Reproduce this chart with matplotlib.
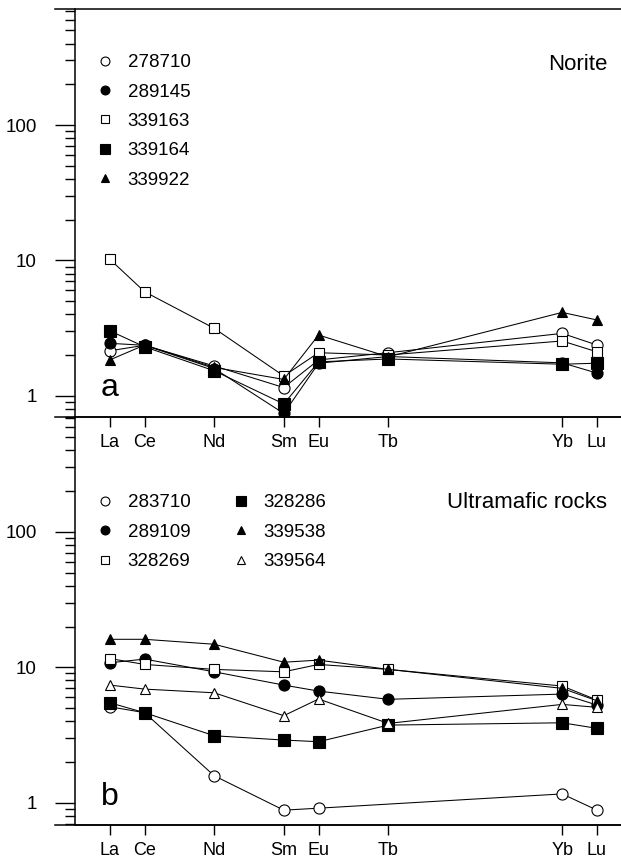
import numpy as np
import matplotlib
matplotlib.use('Agg')
import matplotlib.pyplot as plt
from matplotlib.lines import Line2D

plt.rcParams['font.family'] = ['Liberation Sans', 'DejaVu Sans']

# REE en el eje x (número atómico)
ree = ['La', 'Ce', 'Nd', 'Sm', 'Eu', 'Tb', 'Yb', 'Lu']
z = [57, 58, 60, 62, 63, 65, 70, 71]

# Panel a: norita
norite_names = ['278710', '289145', '339163', '339164', '339922']
s278710 = [2.15, 2.36, 1.66, 1.15, 1.84, 2.08, 2.89, 2.37]
s289145 = [2.44, 2.36, 1.59, 0.74, 1.74, 1.95, 1.75, 1.47]
s339163 = [10.2, 5.87, 3.15, 1.40, 2.08, 2.00, 2.54, 2.11]
s339164 = [3.02, 2.30, 1.53, 0.87, 1.78, 1.87, 1.71, 1.74]
s339922 = [1.84, 2.37, 1.62, 1.32, 2.81, 1.94, 4.13, 3.63]
norite_vals = [s278710, s289145, s339163, s339164, s339922]

# Panel b: rocas ultramáficas (283710 sin Tb)
ultra_names = ['283710', '289109', '328269', '328286', '339538', '339564']
s283710 = [5.11, 4.62, 1.58, 0.88, 0.91, np.nan, 1.16, 0.88]
s289109 = [10.8, 11.5, 9.26, 7.39, 6.67, 5.80, 6.34, 5.26]
s328269 = [11.6, 10.5, 9.65, 9.26, 10.5, 9.65, 7.27, 5.73]
s328286 = [5.47, 4.62, 3.12, 2.90, 2.82, 3.74, 3.89, 3.54]
s339538 = [16.1, 16.1, 14.8, 10.9, 11.3, 9.65, 6.99, 5.66]
s339564 = [7.39, 6.90, 6.48, 4.39, 5.83, 3.85, 5.32, 5.06]
ultra_vals = [s283710, s289109, s328269, s328286, s339538, s339564]

# estilos de marcador: (marker, relleno, tamaño)
norite_style = [('o', 'white', 8), ('o', 'black', 8), ('s', 'white', 7),
                ('s', 'black', 8.5), ('^', 'black', 7)]
ultra_style = [('o', 'white', 8), ('o', 'black', 8), ('s', 'white', 7),
               ('s', 'black', 8.5), ('^', 'black', 7), ('^', 'white', 6.5)]

fig = plt.figure(figsize=(6.21, 8.58), dpi=100)
L = 75 / 621
ax1 = fig.add_axes([L, 0.5143, 1 - L, 0.4752])
ax2 = fig.add_axes([L, 0.0381, 1 - L, 0.4762])
ax2.patch.set_visible(False)

ext = 20 / 546  # prolongación de las líneas horizontales a la izquierda


def draw_panel(ax, names, vals, styles, ylim, title, title_y, letter, ncol, leg_y):
    handles = []
    for name, v, (m, fc, ms) in zip(names, vals, styles):
        x = np.array(z, dtype=float)
        y = np.array(v, dtype=float)
        ok = ~np.isnan(y)
        ax.plot(x[ok], y[ok], '-', color='black', lw=0.75,
                marker=m, ms=ms, mfc=fc, mec='black', mew=0.8)
        handles.append(Line2D([], [], ls='none', marker=m, ms=ms * 0.8,
                              mfc=fc, mec='black', mew=0.8, label=name))
    ax.set_yscale('log')
    ax.set_ylim(*ylim)
    ax.set_xlim(56.0, 71.69)
    ax.set_xticks(z)
    ax.set_xticklabels(ree, fontsize=13)
    ax.tick_params(axis='x', direction='out', length=7.2, width=1.0, pad=5)
    ax.tick_params(axis='y', which='major', direction='out', length=14.4,
                   width=1.0, pad=13, labelsize=13.5)
    ax.tick_params(axis='y', which='minor', direction='out', length=7.2,
                   width=1.0, labelleft=False)
    ax.yaxis.set_major_formatter(matplotlib.ticker.FuncFormatter(lambda v, p: f'{v:g}'))
    for s in ['right', 'top']:
        ax.spines[s].set_visible(False)
    for s in ['left', 'bottom']:
        ax.spines[s].set_linewidth(1.1)
    ax.plot([-ext, 1], [0, 0], transform=ax.transAxes, color='black',
            lw=1.1, clip_on=False)
    ax.text(0.975, title_y, title, transform=ax.transAxes, ha='right',
            va='center', fontsize=16)
    ax.text(0.047, 0.05, letter, transform=ax.transAxes, ha='left',
            va='baseline', fontsize=23)
    ax.legend(handles=handles, loc='upper left', bbox_to_anchor=(0.038, leg_y),
              frameon=False, fontsize=13.5, ncol=ncol, handlelength=1.0,
              handletextpad=0.7, labelspacing=0.65, columnspacing=2.2,
              borderaxespad=0, borderpad=0)


draw_panel(ax1, norite_names, norite_vals, norite_style, (0.70, 720),
           'Norite', 0.865, 'a', 1, 0.889)
draw_panel(ax2, ultra_names, ultra_vals, ultra_style, (0.68, 710),
           'Ultramafic rocks', 0.789, 'b', 2, 0.81)

# línea superior del panel a
ax1.plot([-ext, 1], [1, 1], transform=ax1.transAxes, color='black',
         lw=1.1, clip_on=False)

plt.savefig('out.png', dpi=100)
